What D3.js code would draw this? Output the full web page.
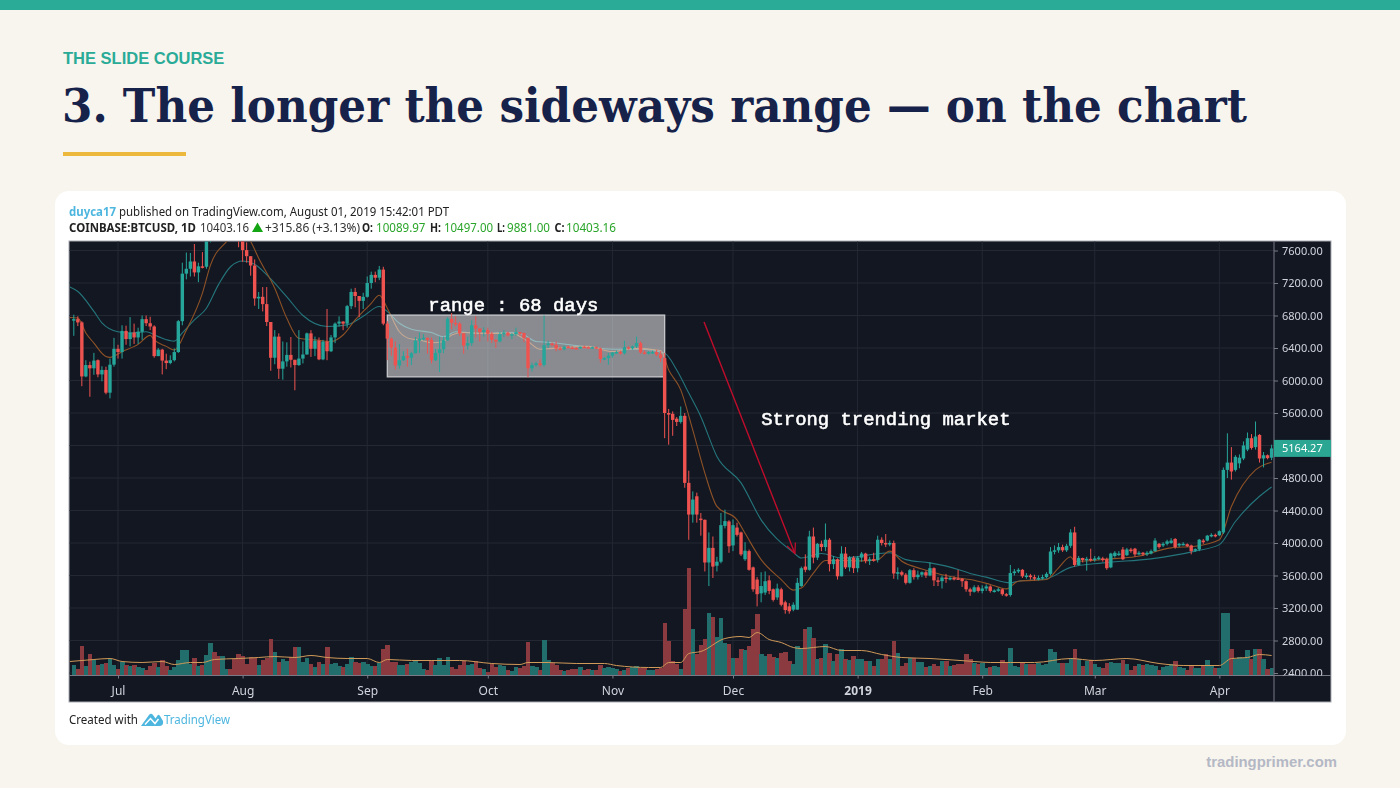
<!DOCTYPE html>
<html>
<head>
<meta charset="utf-8">
<title>The longer the sideways range</title>
<script src="https://cdn.jsdelivr.net/npm/d3@7/dist/d3.min.js"></script>
<style>
html,body{margin:0;padding:0;background:#f8f5ee;}
svg{display:block;}
.chartblur{filter:blur(0.55px);}
</style>
</head>
<body>
<svg id="c" width="1400" height="788" viewBox="0 0 1400 788"></svg>
<script>
// ---- daily BTCUSD candles, 20 Jun 2018 .. 14 Apr 2019 ----
const startDay = Date.UTC(2018, 5, 20);
const opens = [
 6745,6755,6715,6050,6190,6150,6250,6075,6130,5850,6195,
 6390,6350,6610,6510,6590,6530,6600,6755,6705,6665,6300,6380,6245,6215,6250,6350,6730,7315,7375,7465,7330,7405,7400,7715,8400,8170,7930,8190,8230,8215,8170,
 7725,7605,7530,7415,7010,7030,6940,6720,6280,6540,6145,6235,6315,6255,6190,6270,6320,6580,6390,6490,6260,6480,6360,6530,6700,6725,6700,6915,7090,7040,6980,
 7030,7200,7300,7265,7365,6700,6515,6405,6185,6250,6300,6280,6335,6490,6515,6525,6500,6250,6340,6385,6495,6760,6710,6700,6580,6430,6460,6680,6640,6595,
 6620,6575,6500,6480,6570,6590,6555,6570,6595,6585,6525,6150,6190,6210,6190,6435,6455,6440,6395,6385,6415,6405,6400,6395,6415,6410,6405,6410,6395,6265,6275,
 6305,6345,6350,6335,6410,6395,6420,6460,6345,6335,6350,6350,6320,6275,5600,5590,5530,5490,5565,4740,4350,4575,4300,4285,3760,3940,3720,3770,4210,4265,
 3970,4190,4130,3800,3900,3700,3550,3380,3390,3540,3430,3330,3430,3270,3220,3180,3180,3470,3710,3670,4080,3820,3990,3950,4040,3740,3800,3590,3870,3700,3820,
 3690,3820,3870,3780,3800,3790,4040,4000,3990,4000,3625,3640,3610,3510,3665,3580,3610,3640,3600,3690,3540,3530,3575,3560,3570,3565,3560,3530,3430,3400,3455,
 3410,3440,3465,3410,3415,3430,3370,3360,3630,3650,3670,3590,3600,3580,3560,3570,3580,3620,3895,3910,3950,3910,3965,4130,3730,3815,3790,3805,
 3790,3810,3810,3800,3700,3840,3860,3920,3850,3920,3930,3860,3880,3860,3870,3900,3990,3970,3990,4000,4050,3970,3980,3985,3970,3905,3920,4030,4030,4090,4100,
 4095,4130,4900,4990,4900,4980,5040,5150,5290,5180,5330,5040,5080,5050];
const highs = [
 6810,6790,6730,6250,6232,6340,6260,6175,6170,6270,6525,
 6440,6680,6675,6780,6700,6650,6800,6800,6785,6680,6400,6390,6330,6310,6395,6745,7450,7575,7570,7680,7450,7580,7800,8480,8480,8320,8270,8240,8300,8280,8170,
 7760,7700,7530,7490,7090,7150,7150,6720,6620,6580,6480,6470,6535,6255,6620,6480,6590,6620,6540,6530,6500,6880,6560,6715,6790,6730,6930,7130,7140,7040,7080,
 7280,7340,7340,7410,7400,6730,6530,6480,6450,6360,6390,6350,6535,6590,6570,6530,6530,6390,6540,6540,6780,6830,6790,6720,6580,6540,6740,6790,6640,6655,
 6650,6600,6510,6600,6620,6600,6585,6650,6600,6590,6530,6220,6230,6260,6800,6490,6470,6480,6420,6430,6430,6420,6410,6420,6430,6420,6420,6420,6405,6290,6340,
 6350,6370,6370,6490,6420,6430,6540,6480,6370,6360,6370,6380,6360,6340,5650,5620,5550,5680,5600,4890,4635,4620,4370,4290,4130,4080,3830,4370,4410,4280,
 4290,4250,4140,4010,3920,3710,3580,3640,3650,3600,3440,3500,3450,3290,3260,3270,3570,3710,3860,4150,4190,4000,4030,4240,4060,3840,3810,3960,3950,3840,3840,
 3840,3890,3880,3830,3880,4090,4070,4110,4030,4030,3700,3660,3630,3680,3690,3660,3650,3660,3760,3700,3580,3600,3620,3590,3590,3670,3570,3540,3450,3480,3480,
 3480,3490,3480,3430,3450,3440,3385,3730,3680,3690,3680,3630,3620,3610,3600,3610,3640,3950,3970,4000,3980,3990,4170,4200,3840,3820,3830,3930,
 3840,3840,3830,3820,3880,3900,3900,3950,3940,3940,3940,3900,3890,3900,3920,4060,4000,4010,4040,4060,4060,4000,4010,3995,3980,3935,4050,4050,4100,4120,4115,
 4155,4930,5350,5180,5080,5090,5250,5360,5340,5495,5340,5120,5090,5210];
const lows = [
 6550,6670,5930,6040,5800,6070,6040,5990,5830,5780,6170,
 6270,6270,6440,6420,6450,6450,6500,6670,6620,6280,6300,6075,6140,6200,6235,6340,6680,7245,7280,7280,7210,7380,7375,7700,8050,7850,7800,8080,8120,7860,7640,
 7460,7450,7290,6920,6880,6850,6670,6120,6200,6020,6010,6170,6160,5880,6180,6210,6320,6290,6300,6250,6250,6250,6350,6460,6665,6620,6650,6880,6900,6780,6880,
 7020,7130,7210,7235,6680,6250,6305,6135,6145,6240,6170,6190,6335,6340,6495,6330,6210,6240,6105,6335,6490,6630,6665,6550,6330,6380,6425,6530,6480,6540,
 6480,6460,6400,6470,6535,6540,6510,6550,6550,6470,6040,6110,6170,6170,6170,6400,6420,6360,6370,6370,6400,6390,6380,6390,6400,6400,6395,6395,6220,6250,6195,
 6280,6330,6320,6320,6380,6380,6400,6330,6320,6320,6330,6300,6230,5290,5210,5320,5440,5470,4680,4040,4250,4250,4090,3650,3470,3570,3650,3750,4180,3880,
 3900,4080,3840,3780,3660,3400,3220,3270,3360,3370,3280,3300,3220,3130,3130,3160,3180,3460,3640,3660,3750,3790,3900,3900,3650,3680,3550,3590,3680,3650,3630,
 3640,3770,3750,3730,3770,3760,3970,3950,3960,3560,3550,3590,3490,3500,3550,3550,3580,3570,3590,3470,3470,3440,3510,3540,3540,3550,3460,3400,3350,3390,3390,
 3380,3410,3390,3390,3400,3350,3340,3340,3600,3630,3570,3560,3550,3540,3540,3550,3570,3600,3860,3880,3890,3890,3940,3710,3720,3760,3660,3770,
 3770,3790,3770,3670,3690,3820,3840,3790,3840,3880,3830,3850,3840,3840,3860,3890,3930,3950,3970,3990,3930,3950,3970,3950,3860,3890,3900,3990,4020,4070,4070,
 4085,4110,4800,4780,4880,4920,5020,5130,5150,5150,4990,4930,5030,5020];
const closes = [
 6755,6715,6050,6190,6150,6245,6075,6130,5850,6195,6390,
 6350,6610,6510,6590,6530,6600,6755,6705,6665,6300,6380,6245,6215,6250,6350,6730,7315,7375,7465,7330,7405,7400,7715,8400,8170,7930,8190,8230,8215,8170,7725,
 7605,7530,7415,7010,7030,6940,6720,6280,6540,6145,6235,6315,6255,6190,6270,6320,6580,6390,6490,6260,6480,6360,6530,6700,6725,6700,6915,7090,7040,6980,7030,
 7200,7300,7265,7365,6700,6515,6405,6185,6250,6300,6280,6335,6490,6515,6525,6500,6250,6340,6385,6495,6760,6710,6700,6580,6430,6460,6680,6640,6595,6620,
 6575,6500,6480,6570,6590,6555,6570,6595,6585,6525,6150,6190,6210,6190,6435,6455,6440,6395,6385,6415,6405,6400,6395,6415,6410,6405,6410,6395,6265,6275,6305,
 6345,6350,6335,6410,6395,6420,6460,6345,6335,6350,6350,6320,6275,5600,5580,5515,5490,5565,4740,4350,4535,4350,4285,3760,3940,3710,3770,4220,4270,3960,
 4220,4100,3860,3905,3670,3430,3370,3470,3530,3410,3300,3440,3240,3175,3160,3240,3510,3690,3670,4080,3820,3990,3950,4040,3740,3800,3590,3870,3700,3820,3690,
 3820,3870,3780,3800,3790,4040,4000,3990,4000,3625,3640,3610,3510,3665,3580,3610,3640,3600,3690,3540,3530,3575,3560,3570,3565,3560,3530,3430,3400,3455,3410,
 3440,3465,3410,3415,3430,3370,3360,3630,3650,3670,3590,3600,3580,3560,3570,3580,3620,3895,3910,3950,3910,3965,4130,3730,3815,3790,3805,3790,
 3810,3820,3790,3690,3870,3880,3870,3800,3920,3900,3860,3880,3860,3880,3900,4030,3950,3990,4020,4030,3950,3990,3990,3960,3900,3925,4040,4010,4090,4100,4095,
 4145,4900,4990,4880,5060,5050,5200,5290,5170,5310,5040,5080,5045,5164];
const volumes = [
 11,7,30,10,22,16,11,12,13,17,11,
 7,14,11,10,11,9,8,6,10,13,9,16,10,6,9,16,26,26,12,18,10,11,21,33,24,20,20,7,7,17,22,
 20,12,19,18,11,16,18,37,24,14,17,15,19,29,29,14,18,12,9,14,12,29,12,13,10,9,12,19,14,13,14,
 12,10,10,13,27,31,14,14,11,11,12,14,16,13,7,6,16,11,18,11,19,9,7,11,15,11,12,15,8,7,
 4,12,9,11,10,6,5,9,8,10,34,10,9,6,36,16,13,11,6,5,6,7,7,9,6,7,6,6,11,8,9,
 8,7,5,6,8,9,10,8,8,6,6,7,8,53,35,15,12,7,67,108,47,22,31,37,63,59,39,58,33,32,
 18,18,27,26,30,47,62,22,20,22,19,18,23,24,15,12,30,28,47,49,38,17,18,32,23,15,22,27,17,16,20,
 17,17,15,15,10,17,17,22,17,35,23,10,13,18,18,14,14,9,10,12,10,15,15,10,11,12,12,22,17,13,12,
 13,8,9,10,9,16,13,28,10,9,13,12,12,12,13,11,12,27,24,13,13,13,18,27,17,10,15,16,
 12,9,8,13,14,13,13,16,12,6,10,12,11,12,11,10,6,9,10,12,15,9,8,6,10,8,8,11,16,11,8,
 8,63,63,27,17,19,18,26,17,27,27,17,7,8];

// ---- moving averages: day number (counted from 20 Jun 2018) and level ----
const slowDays = [-1,1,5,7,11,14,18,21,25,27,30,33,36,39,42,45,48,53,57,63,68,72,76,78,81,84,89,92,95,101,109,112,115,118,126,134,141,147,150,153,156,160,166,171,179,181,186,191,203,207,213,220,223,227,233,235,242,248,256,268,279,285,289,295,298];
const slowLevel = [7150,7095,6850,6710,6600,6585,6600,6540,6485,6585,6745,6890,7180,7400,7470,7430,7300,7030,6800,6665,6685,6790,6910,6850,6705,6630,6590,6540,6600,6580,6590,6560,6480,6470,6425,6385,6385,6335,6130,5845,5555,5065,4740,4285,3885,3815,3870,3815,3880,3795,3755,3675,3625,3580,3510,3530,3560,3700,3755,3805,3900,3980,4265,4575,4690];
const fastDays = [-1,1,3,5,8,9,12,16,19,20,23,25,28,32,34,38,41,44,46,50,53,56,60,64,67,70,74,76,78,81,84,86,89,92,94,97,101,109,113,116,119,128,134,139,146,148,151,154,157,160,165,167,171,176,179,181,184,187,191,196,200,203,206,211,220,223,228,232,235,242,245,248,249,258,264,273,279,285,288,294,298];
const fastLevel = [6775,6770,6585,6460,6295,6285,6355,6445,6555,6500,6420,6375,6620,7075,7420,7710,7850,7710,7505,7135,6765,6520,6500,6480,6560,6745,6950,7050,6890,6600,6510,6500,6465,6480,6560,6590,6580,6580,6480,6385,6395,6420,6355,6395,6370,6130,5885,5390,4860,4450,4285,4120,3795,3550,3420,3445,3630,3785,3785,3780,3795,3900,3775,3680,3570,3550,3490,3435,3530,3550,3695,3830,3775,3805,3830,3940,3960,4040,4450,4900,4995];
const volMaDays = [-1,5,9,12,17,22,25,29,32,35,41,46,50,55,59,63,68,73,76,78,84,89,96,104,111,113,118,125,132,135,143,146,148,151,153,156,162,166,168,170,173,176,179,181,187,191,196,201,206,213,224,228,233,239,248,254,262,270,276,285,288,292,295,298];
const volMaLevel = [14,16,17,14,13,14,11,13,13,16,17,18,19,18,20,18,17,17,13,16,15,15,15,12,11,13,13,12,12,10,8,8,13,13,22,24,37,39,38,43,36,33,28,27,29,25,25,21,18,17,14,13,13,13,17,15,17,12,10,10,17,18,21,20];

const priceTicks = [7600,7200,6800,6400,6000,5600,5200,4800,4400,4000,3600,3200,2800,2400];
const hiddenPriceLabel = 5200; // covered by the last-price tag in the reference
const monthDates = [[2018,6],[2018,7],[2018,8],[2018,9],[2018,10],[2018,11],[2019,0],[2019,1],[2019,2],[2019,3]];
const monthLabels = ["Jul","Aug","Sep","Oct","Nov","Dec","2019","Feb","Mar","Apr"];

const lastPrice = 5164.27;
const rangeBox = {fromDay:78, toDay:147, hi:6805, lo:6045};
const arrowFrom = {day:156.8, price:6721};
const arrowTo = {day:179.4, price:3870};

// ---- scales ----
const dayMs = 86400000;
const dayDate = i => new Date(startDay + i * dayMs);
const x = d3.scaleUtc().domain([dayDate(0), dayDate(298)]).range([73.8, 1271.6]);
const y = d3.scaleLinear().domain([2400, 7600]).range([673, 250.5]);
const yVol = d3.scaleLinear().domain([0, 108]).range([675.5, 567.5]);

const svg = d3.select("#c");
const C = {bar:"#2aab97", bg:"#f8f5ee", navy:"#16224a", gold:"#edb93c", up:"#26a69a", down:"#ef5350",
           panel:"#131722", grid:"#232833", axis:"#d1d4dc", line:"#787b86"};

// slide frame
svg.append("rect").attr("width",1400).attr("height",788).attr("fill",C.bg);
svg.append("rect").attr("width",1400).attr("height",10).attr("fill",C.bar);
svg.append("text").attr("x",63).attr("y",64).text("THE SLIDE COURSE")
  .attr("font-family","Liberation Sans").attr("font-weight",700).attr("font-size",16.5).attr("fill",C.bar);
svg.append("text").attr("x",62).attr("y",122).text("3. The longer the sideways range \u2014 on the chart")
  .attr("font-family","DejaVu Serif").attr("font-weight",700).attr("font-size",47).attr("fill",C.navy)
  .attr("textLength",1185).attr("lengthAdjust","spacingAndGlyphs");
svg.append("rect").attr("x",63).attr("y",152).attr("width",123).attr("height",4).attr("fill",C.gold);
svg.append("rect").attr("x",55).attr("y",191).attr("width",1291).attr("height",554).attr("rx",14).attr("fill","#fff");
svg.append("text").attr("x",1337).attr("y",767).attr("text-anchor","end").text("tradingprimer.com")
  .attr("font-family","Liberation Sans").attr("font-weight",700).attr("font-size",14.9).attr("fill","#b4b8c5");

const g = svg.append("g").attr("class","chartblur");

// header texts
const hdr = (tx, xp, yp, w, col, bold) => {
  const t = g.append("text").attr("x",xp).attr("y",yp).text(tx)
    .attr("font-family","Noto Sans").attr("font-size",12).attr("fill",col)
    .attr("font-weight",bold?700:400);
  if (w) t.attr("textLength",w).attr("lengthAdjust","spacingAndGlyphs");
  return t;
};
hdr("duyca17",69,216,47,"#4db6df",true);
hdr("published on TradingView.com, August 01, 2019 15:42:01 PDT",119,216,330,"#222",false);
hdr("COINBASE:BTCUSD, 1D",69,232,127,"#222",true);
hdr("10403.16",200,232,49,"#333",false);
g.append("path").attr("d","M252 232L257.5 222.5L263 232Z").attr("fill","#13a513");
hdr("+315.86 (+3.13%)",265,232,95,"#333",false);
const green = "#2aa52a";
hdr("O:",362,232,11,"#222",true);  hdr("10089.97",376,232,49.5,green,false);
hdr("H:",430,232,11,"#222",true);  hdr("10497.00",444,232,49,green,false);
hdr("L:",497,232,8,"#222",true);   hdr("9881.00",507,232,43,green,false);
hdr("C:",554.5,232,10,"#222",true);hdr("10403.16",566,232,50,green,false);

// chart panel
g.append("rect").attr("x",69).attr("y",241).attr("width",1262).attr("height",461).attr("fill",C.panel)
  .attr("stroke","#a9acb3").attr("stroke-width",1);

const defs = svg.append("defs");
defs.append("clipPath").attr("id","plot").append("rect").attr("x",69.5).attr("y",241.5).attr("width",1204).attr("height",434);
defs.append("clipPath").attr("id","scaleclip").append("rect").attr("x",1274).attr("y",241.5).attr("width",57).attr("height",434);

// month grid & labels through a D3 axis
const monthTicks = monthDates.map(d => new Date(Date.UTC(d[0], d[1], 1)));
const gridX = g.append("g").attr("transform","translate(0,675.5)")
  .call(d3.axisBottom(x).tickValues(monthTicks).tickSize(3).tickFormat((d,i)=>monthLabels[i]));
gridX.select(".domain").remove();
gridX.selectAll("line").attr("stroke",C.line);
gridX.selectAll("text").attr("font-family","Noto Sans").attr("font-size",12).attr("fill",C.axis).attr("dy","1.15em")
  .attr("font-weight",(d,i)=>monthLabels[i]==="2019"?700:400);
g.append("g").selectAll("line").data(monthTicks).join("line")
  .attr("x1",d=>x(d)).attr("x2",d=>x(d)).attr("y1",241.5).attr("y2",675.5).attr("stroke",C.grid);
g.append("g").selectAll("line").data(priceTicks).join("line")
  .attr("x1",69.5).attr("x2",1274).attr("y1",d=>y(d)).attr("y2",d=>y(d)).attr("stroke",C.grid);

const plot = g.append("g").attr("clip-path","url(#plot)");
const days = d3.range(closes.length);
const isUp = i => closes[i] >= opens[i];

// volume bars
plot.append("g").attr("shape-rendering","crispEdges").selectAll("rect").data(days).join("rect")
  .attr("x",i=>x(dayDate(i))-2.1).attr("width",4.6)
  .attr("y",i=>yVol(volumes[i])).attr("height",i=>yVol(0)-yVol(volumes[i]))
  .attr("fill",i=>isUp(i)?"#226e6c":"#8b3b40");
const lineOf = (scale,ds,vs) => d3.line().x((_,k)=>x(dayDate(ds[k]))).y(v=>scale(v)).curve(d3.curveMonotoneX)(vs);
plot.append("path").attr("d",lineOf(yVol,volMaDays,volMaLevel)).attr("fill","none").attr("stroke","#d09a58").attr("stroke-width",1);

// moving averages, range box, then candles
plot.append("path").attr("d",lineOf(y,slowDays,slowLevel)).attr("fill","none").attr("stroke","#24767c").attr("stroke-width",1.1);
plot.append("path").attr("d",lineOf(y,fastDays,fastLevel)).attr("fill","none").attr("stroke","#8e5226").attr("stroke-width",1.1);
plot.append("rect")
  .attr("x",x(dayDate(rangeBox.fromDay))).attr("width",x(dayDate(rangeBox.toDay))-x(dayDate(rangeBox.fromDay)))
  .attr("y",y(rangeBox.hi)).attr("height",y(rangeBox.lo)-y(rangeBox.hi))
  .attr("fill","#fff").attr("fill-opacity",0.5).attr("stroke","#c6c7cb").attr("stroke-width",1.3);

const candle = plot.append("g");
candle.selectAll("line").data(days).join("line")
  .attr("x1",i=>x(dayDate(i))).attr("x2",i=>x(dayDate(i)))
  .attr("y1",i=>y(highs[i])).attr("y2",i=>y(lows[i]))
  .attr("stroke",i=>isUp(i)?C.up:C.down).attr("stroke-width",1);
candle.selectAll("rect").data(days).join("rect")
  .attr("x",i=>x(dayDate(i))-1.7).attr("width",3.4)
  .attr("y",i=>y(Math.max(opens[i],closes[i])))
  .attr("height",i=>Math.max(1.5,Math.abs(y(opens[i])-y(closes[i]))))
  .attr("fill",i=>isUp(i)?C.up:C.down);

// axis lines
g.append("line").attr("x1",69.5).attr("x2",1331).attr("y1",675.5).attr("y2",675.5).attr("stroke",C.line);
g.append("line").attr("x1",1274).attr("x2",1274).attr("y1",241.5).attr("y2",702).attr("stroke",C.line);

// price axis
const axisY = g.append("g").attr("clip-path","url(#scaleclip)").append("g").attr("transform","translate(1274,0)")
  .call(d3.axisRight(y).tickValues(priceTicks).tickSize(4).tickFormat(d=>d===hiddenPriceLabel?"":d3.format(".2f")(d)));
axisY.select(".domain").remove();
axisY.selectAll("line").attr("stroke",C.line);
axisY.selectAll("text").attr("font-family","Noto Sans").attr("font-size",11).attr("fill",C.axis).attr("x",8);

// last price tag
g.append("rect").attr("x",1274).attr("y",y(lastPrice)-8.5).attr("width",57).attr("height",17).attr("fill","#2aa693");
g.append("text").attr("x",1282).attr("y",y(lastPrice)+4).text(lastPrice.toFixed(2))
  .attr("font-family","Noto Sans").attr("font-size",11).attr("fill","#fff");

// annotations
const anno = (tx,d,p) => g.append("text").attr("x",x(dayDate(d))).attr("y",y(p)).text(tx)
  .attr("font-family","Liberation Mono").attr("font-size",18.9)
  .attr("fill","#fff").attr("stroke","#fff").attr("stroke-width",0.55);
anno("range : 68 days",88.2,6860);
anno("Strong trending market",171,5458);

const ax0 = x(dayDate(arrowFrom.day)), ay0 = y(arrowFrom.price), ax1 = x(dayDate(arrowTo.day)), ay1 = y(arrowTo.price);
const ang = Math.atan2(ay1-ay0,ax1-ax0);
g.append("line").attr("x1",ax0).attr("y1",ay0).attr("x2",ax1).attr("y2",ay1).attr("stroke","#c00d2b").attr("stroke-width",1.4);
g.append("path").attr("fill","none").attr("stroke","#c00d2b").attr("stroke-width",1.3)
  .attr("d",`M${ax1-11*Math.cos(ang-0.42)} ${ay1-11*Math.sin(ang-0.42)}L${ax1} ${ay1}L${ax1-11*Math.cos(ang+0.42)} ${ay1-11*Math.sin(ang+0.42)}`);

// footer of the card
hdr("Created with",69,724,69,"#222",false);
g.append("path").attr("d","M141 726L149 715Q151 712.5 153 715L155.5 718.5L157.5 715.5Q158.5 714 160 716L163 721Q164 726 159 726Z").attr("fill","#4db6df");
g.append("path").attr("d","M145 724.5L150.5 718.5L155 723.5L158.5 719").attr("fill","none").attr("stroke","#fff").attr("stroke-width",1.5);
hdr("TradingView",164,724,66,"#4db6df",false);
</script>
</body>
</html>
